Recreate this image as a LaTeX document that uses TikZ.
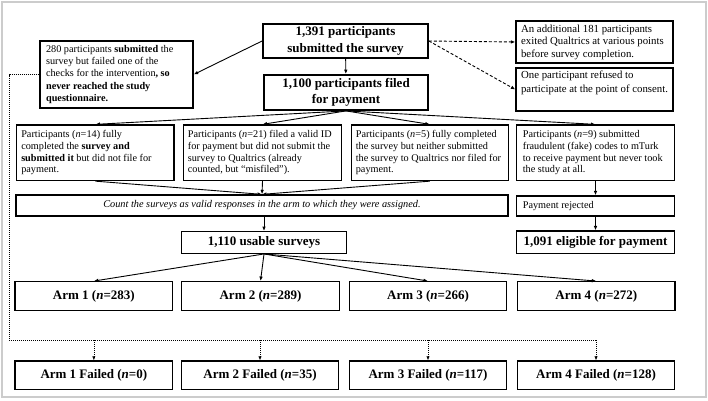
\documentclass[tikz,border=0pt]{standalone}
\usepackage{fontspec}
\setmainfont{Liberation Serif}
\usetikzlibrary{arrows.meta}
\begin{document}
\begin{tikzpicture}[x=1pt,y=-1pt,
  box/.style={draw, line width=1.3pt, inner sep=0pt, align=center},
  thickbox/.style={box, line width=1.8pt},
  bigtxt/.style={font=\bfseries\fontsize{13}{16.5}\selectfont},
  armtxt/.style={font=\bfseries\fontsize{13}{15}\selectfont},
  smalltxt/.style={font=\fontsize{10.25}{11.7}\selectfont},
  intxt/.style={anchor=west, align=left, inner sep=0pt},
  arr/.style={-{Latex[length=4.5pt,width=3.6pt]}, line width=0.9pt},
  darr/.style={arr, dash pattern=on 3pt off 2pt},
  dotline/.style={line width=0.6pt, dash pattern=on 1.2pt off 0.8pt},
  dotarr/.style={dotline, -{Latex[length=4pt,width=3.2pt]}}
]
\useasboundingbox (0,0) rectangle (708,400);
\draw[gray!40, line width=1.5pt] (2,2) rectangle (706,397);

% top level
\node[thickbox, bigtxt, minimum width=165pt, minimum height=34pt] (top) at (345.5,41) {1,391 participants\\submitted the survey};
\node[thickbox, bigtxt, minimum width=164pt, minimum height=35pt] (pay) at (346,92.5) {1,100 participants filed\\for payment};

\node[box, minimum width=153pt, minimum height=67pt] (left) at (116.5,74.5) {};
\node[intxt, font=\fontsize{10.25}{12.2}\selectfont] (leftt) at ([xshift=6.5pt]left.west)
 {280 participants \textbf{submitted} the\\survey but failed one of the\\checks for the intervention\textbf{, so}\\\textbf{never reached the study}\\\textbf{questionnaire.}};

\node[box, minimum width=157pt, minimum height=42pt] (rb1) at (594.5,42) {};
\node[intxt, font=\fontsize{10.8}{12.5}\selectfont] (rb1t) at ([xshift=5.5pt]rb1.west)
 {An additional 181 participants\\exited Qualtrics at various points\\before survey completion.};
\node[box, minimum width=157pt, minimum height=43pt] (rb2) at (594.5,89.5) {};
\node[anchor=north west, align=left, inner xsep=5.5pt, inner ysep=3pt, font=\fontsize{10.8}{14}\selectfont] (rb2t) at (rb2.north west)
 {One participant refused to\\participate at the point of consent.};

% row of four
\node[box, minimum width=157.3pt, minimum height=55.5pt] (r1) at (95.35,152.75) {};
\node[intxt, smalltxt] (r1t) at ([xshift=5pt]r1.west)
 {Participants (\textit{n}=14) fully\\completed the \textbf{survey and}\\\textbf{submitted it} but did not file for\\payment.};
\node[box, minimum width=158.4pt, minimum height=55.5pt] (r2) at (262.5,152.75) {};
\node[intxt, smalltxt] (r2t) at ([xshift=5pt]r2.west)
 {Participants (\textit{n}=21) filed a valid ID\\for payment but did not submit the\\survey to Qualtrics (already\\counted, but “misfiled”).};
\node[box, minimum width=157pt, minimum height=55.5pt] (r3) at (429.8,152.75) {};
\node[intxt, smalltxt] (r3t) at ([xshift=5pt]r3.west)
 {Participants (\textit{n}=5) fully completed\\the survey but neither submitted\\the survey to Qualtrics nor filed for\\payment.};
\node[box, minimum width=157.6pt, minimum height=55.5pt] (r4) at (595.5,152.75) {};
\node[intxt, smalltxt] (r4t) at ([xshift=6.6pt]r4.west)
 {Participants (\textit{n}=9) submitted\\fraudulent (fake) codes to mTurk\\to receive payment but never took\\the study at all.};

\node[box, font=\itshape\fontsize{10.3}{12}\selectfont, minimum width=492pt, minimum height=21pt] (count) at (262,205.5)
 {Count the surveys as valid responses in the arm to which they were assigned.};
\node[box, minimum width=157.6pt, minimum height=20pt] (rej) at (595.5,206) {};
\node[intxt, smalltxt] (rejt) at ([xshift=6.6pt]rej.west) {Payment rejected};

\node[box, bigtxt, minimum width=165pt, minimum height=21.6pt] (usable) at (264,242.5) {1,110 usable surveys};
\node[box, bigtxt, minimum width=157.6pt, minimum height=22.3pt] (elig) at (595.5,242.2) {1,091 eligible for payment};

% arms
\node[box, armtxt, minimum width=157.7pt, minimum height=29pt] (a1) at (93.85,296.2) {Arm 1 (\textit{n}=283)};
\node[box, armtxt, minimum width=157.6pt, minimum height=29pt] (a2) at (260.5,296.2) {Arm 2 (\textit{n}=289)};
\node[box, armtxt, minimum width=157.4pt, minimum height=29pt] (a3) at (428,296.2) {Arm 3 (\textit{n}=266)};
\node[box, armtxt, minimum width=157.3pt, minimum height=29pt] (a4) at (596.35,296.2) {Arm 4 (\textit{n}=272)};

\node[box, armtxt, minimum width=157.7pt, minimum height=28.3pt] (f1) at (93.85,375.2) {Arm 1 Failed (\textit{n}=0)};
\node[box, armtxt, minimum width=156.6pt, minimum height=28.3pt] (f2) at (260,375.2) {Arm 2 Failed (\textit{n}=35)};
\node[box, armtxt, minimum width=157.4pt, minimum height=28.3pt] (f3) at (428,375.2) {Arm 3 Failed (\textit{n}=117)};
\node[box, armtxt, minimum width=156.6pt, minimum height=28.3pt] (f4) at (596,375.2) {Arm 4 Failed (\textit{n}=128)};

% connectors
\draw[arr] (top) -- (pay);
\draw[arr] (top.west) -- (left.east);
\draw[darr] (top.east) -- (rb1.west);
\draw[darr] (top.east) -- (rb2.west);
\foreach \r in {r1,r2,r3,r4} \draw[arr] (pay.south) -- (\r.north);
\foreach \r in {r1,r2,r3} \draw[arr] (\r.south) -- (count.north);
\draw[arr] (r4) -- (rej);
\draw[arr] (rej) -- (elig);
\draw[arr] (usable.north |- count.south) -- (usable.north);
\foreach \a in {a1,a2,a3,a4} \draw[arr] (usable.south) -- (\a.north);

\coordinate (dl) at (9,74.5);
\coordinate (dc) at (9,340);
\coordinate (de) at (596,340);
\draw[dotline] (left.west) -- (dl) -- (dc) -- (de);
\foreach \f in {f1,f2,f3,f4} \draw[dotarr] (\f.north |- dc) -- (\f.north);
\end{tikzpicture}
\end{document}
